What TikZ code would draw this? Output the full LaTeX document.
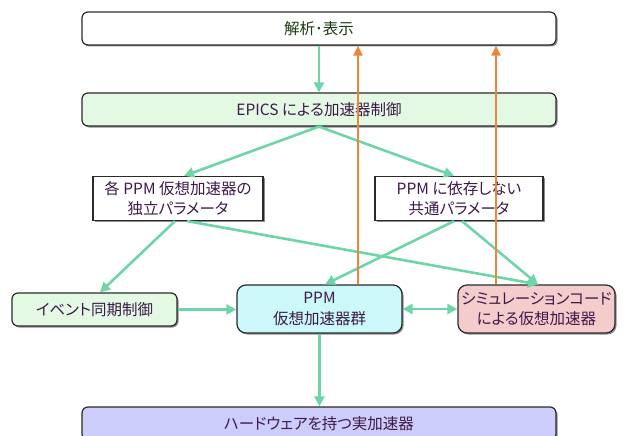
\documentclass[tikz,border=0pt]{standalone}
\usepackage{fontspec}
\setmainfont[RawFeature=+palt]{Noto Sans CJK JP}
\usetikzlibrary{arrows.meta,shadows}
\definecolor{garrow}{HTML}{6DD5A8}
\definecolor{oarrow}{HTML}{F0843A}
\definecolor{fgreen}{HTML}{E4F9E4}
\definecolor{fcyan}{HTML}{CCF8FA}
\definecolor{fpink}{HTML}{F5CCCC}
\definecolor{fblue}{HTML}{CCCDFA}
\definecolor{tpurple}{HTML}{3C1A4A}
\definecolor{tgreen}{HTML}{1E3A12}
\definecolor{bordc}{HTML}{2A2A2A}
\tikzset{
  box/.style={draw=bordc, line width=1.2pt, text=tpurple, align=center,
    font=\fontsize{15.5pt}{20.5pt}\selectfont, inner sep=0pt,
    drop shadow={shadow xshift=1.5pt, shadow yshift=-1.5pt, fill=black, opacity=0.45}},
  rbox/.style={box, rounded corners=6pt},
  garr/.style={draw=garrow, line width=2.6pt, -{Triangle[length=10pt,width=10pt]}},
  gdarr/.style={draw=garrow, line width=2.6pt, {Triangle[length=10pt,width=10pt]}-{Triangle[length=10pt,width=10pt]}},
  oarr/.style={draw=oarrow, line width=2.4pt, -{Triangle[length=10pt,width=9pt]}}
}
\begin{document}
\begin{tikzpicture}[x=1pt,y=-1pt]
\useasboundingbox (0,0) rectangle (624,436);
\node[rbox, fill=white, text=tgreen, minimum width=474pt, minimum height=33pt] (top) at (319,28.5) {解析･表示};
\node[rbox, fill=fgreen, minimum width=474pt, minimum height=33pt] (epics) at (319,109.5) {EPICS による加速器制御};
\node[box, fill=white, minimum width=170pt, minimum height=44pt] (lp) at (178,198.5) {各 PPM 仮想加速器の\\独立パラメータ};
\node[box, fill=white, minimum width=168pt, minimum height=44pt] (rp) at (459,198.5) {PPM に依存しない\\共通パラメータ};
\node[rbox, fill=fgreen, minimum width=165pt, minimum height=33pt] (ev) at (94.5,309.5) {イベント同期制御};
\node[rbox, rounded corners=9pt, fill=fcyan, minimum width=165pt, minimum height=48pt] (ppm) at (319.5,309) {PPM\\仮想加速器群};
\node[rbox, rounded corners=9pt, fill=fpink, minimum width=157pt, minimum height=48pt] (sim) at (536.5,309) {シミュレーションコード\\による仮想加速器};
\node[rbox, fill=fblue, minimum width=474pt, minimum height=33pt] (bot) at (319,423.5) {ハードウェアを持つ実加速器};

\draw[garr] (top.south) -- (epics.north);
\draw[garr] (epics.south) -- ([xshift=6pt]lp.north);
\draw[garr] (epics.south) -- ([xshift=-5pt]rp.north);
\draw[garr] ([xshift=-3pt]lp.south) -- ([xshift=5.5pt]ev.north);
\draw[garr] ([xshift=9pt]lp.south) -- ([xshift=1.5pt]sim.north);
\draw[garr] ([xshift=-5pt]rp.south) -- ([xshift=5.5pt]ppm.north);
\draw[garr] ([xshift=3pt]rp.south) -- ([xshift=1.5pt]sim.north);
\draw[garr] (ev.east) -- (ppm.west |- ev.east);
\draw[gdarr] (ppm.east) -- (sim.west);
\draw[garr] (ppm.south) -- (ppm.south |- bot.north);
\draw[oarr] ([xshift=38.5pt]ppm.north) -- ([xshift=38.5pt]ppm.north |- top.south);
\draw[oarr] ([xshift=-40.5pt]sim.north) -- ([xshift=-40.5pt]sim.north |- top.south);
\end{tikzpicture}
\end{document}
